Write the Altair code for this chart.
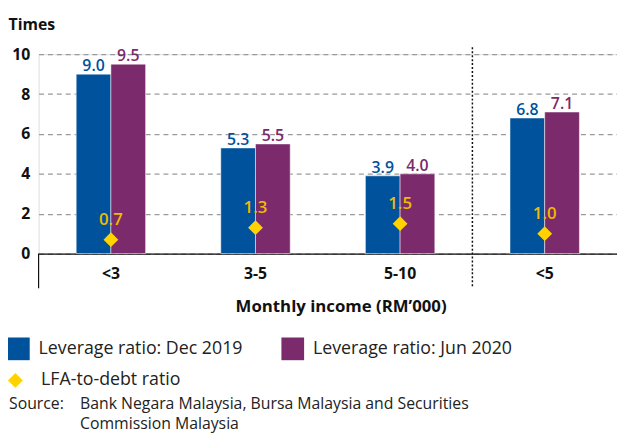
import altair as alt
import pandas as pd

categories = ["<3", "3-5", "5-10", "<5"]
dec2019 = [9.0, 5.3, 3.9, 6.8]
jun2020 = [9.5, 5.5, 4.0, 7.1]
lfa = [0.7, 1.3, 1.5, 1.0]
series_names = ["Leverage ratio: Dec 2019", "Leverage ratio: Jun 2020"]
lfa_name = "LFA-to-debt ratio"
y_ticks = [0, 2, 4, 6, 8, 10]
source_lead = "Source:"
source_line1 = "Bank Negara Malaysia, Bursa Malaysia and Securities"
source_line2 = "Commission Malaysia"

FONT = "Open Sans"
BLUE = "#00529C"
PURPLE = "#7B2A6B"
YELLOW = "#FFD200"
GOLD = "#EDBB00"

W, H = 586, 202

bars_df = pd.DataFrame({
    "category": categories * 2,
    "series": [series_names[0]] * 4 + [series_names[1]] * 4,
    "value": dec2019 + jun2020,
})
lfa_df = pd.DataFrame({"category": categories, "value": lfa, "lbl": [lfa_name] * 4})
one = pd.DataFrame({"a": [0]})

xenc = alt.X(
    "category:N", sort=categories,
    scale=alt.Scale(paddingInner=0.52, paddingOuter=0.26),
    axis=alt.Axis(
        title="Monthly income (RM\u2019000)", labelAngle=0, ticks=False,
        labelFont=FONT, labelFontSize=16, labelFontWeight="bold", labelColor="#111",
        labelPadding=12, domainColor="#111", domainWidth=1.2,
        titleFont=FONT, titleFontSize=17, titleFontWeight="bold", titleColor="#111",
        titlePadding=18, titleX=306, grid=False,
    ),
)
yenc = alt.Y(
    "value:Q", scale=alt.Scale(domain=[0, 10], nice=False),
    axis=alt.Axis(
        values=y_ticks, title="Times", titleAngle=0, titleAlign="left",
        titleBaseline="middle", titleX=-31, titleY=-30, titleFont=FONT,
        titleFontSize=16, titleFontWeight="bold", titleColor="#111",
        domain=False, ticks=False, labelPadding=9, labelFont=FONT,
        labelFontSize=16, labelFontWeight="bold", labelColor="#111",
        grid=True, gridDash=[5, 4], gridColor="#9a9a9a", gridWidth=1.2,
    ),
)
color = alt.Color(
    "series:N", title=None,
    scale=alt.Scale(domain=series_names, range=[BLUE, PURPLE]),
    legend=alt.Legend(
        orient="none", legendX=-32, legendY=287, direction="horizontal",
        symbolType="square", symbolSize=529, symbolStrokeWidth=0,
        symbolOpacity=1, labelFont=FONT, labelFontSize=18, labelColor="#222",
        labelOffset=9, columnPadding=39, padding=0, labelLimit=400,
    ),
)

bars = alt.Chart(bars_df).mark_bar(stroke="white", strokeWidth=0.5).encode(
    x=xenc, y=yenc, xOffset=alt.XOffset("series:N", sort=series_names), color=color
)
bar_labels = alt.Chart(bars_df).mark_text(
    baseline="alphabetic", dy=-3, font=FONT, fontSize=16, fontWeight=600
).encode(
    x=xenc, y=yenc, xOffset=alt.XOffset("series:N", sort=series_names),
    color=alt.Color("series:N", scale=alt.Scale(domain=series_names, range=[BLUE, PURPLE]), legend=None),
    text=alt.Text("value:Q", format=".1f"),
)
points = alt.Chart(lfa_df).mark_point(filled=True, opacity=1, size=225, color=YELLOW).encode(
    x=xenc, y=yenc,
    shape=alt.Shape(
        "lbl:N", title=None, scale=alt.Scale(range=["diamond"]),
        legend=alt.Legend(
            orient="none", legendX=-32.5, legendY=321.5, symbolSize=225,
            symbolFillColor=YELLOW, symbolStrokeWidth=0, symbolOpacity=1,
            labelFont=FONT, labelFontSize=18, labelColor="#222", labelOffset=17,
            padding=0,
        ),
    ),
)
point_labels = alt.Chart(lfa_df).mark_text(
    baseline="middle", dy=-20, font=FONT, fontSize=17, fontWeight=600, color=GOLD
).encode(x=xenc, y=yenc, text=alt.Text("value:Q", format=".1f"))

sep = alt.Chart(one).mark_rule(color="#111", strokeDash=[2, 2], strokeWidth=1.5).encode(
    x=alt.value(W * 3 / 4), y=alt.value(-7), y2=alt.value(235)
)
left_tick = alt.Chart(one).mark_rule(color="#111", strokeWidth=1.2).encode(
    x=alt.value(0), y=alt.value(H), y2=alt.value(237)
)
src_style = dict(align="left", baseline="middle", font=FONT, fontSize=16, color="#222")
src0 = alt.Chart(one).mark_text(**src_style).encode(
    x=alt.value(-30), y=alt.value(354), text=alt.value(source_lead))
src1 = alt.Chart(one).mark_text(**src_style).encode(
    x=alt.value(42), y=alt.value(354), text=alt.value(source_line1))
src2 = alt.Chart(one).mark_text(**src_style).encode(
    x=alt.value(42), y=alt.value(375), text=alt.value(source_line2))

chart = alt.layer(bars, bar_labels, points, point_labels, sep, left_tick, src0, src1, src2).properties(
    width=W, height=H,
    autosize=alt.AutoSizeParams(type="none"),
    padding={"left": 31, "top": 44, "right": 0, "bottom": 184},
).resolve_scale(color="independent").configure_view(stroke=None).configure(background="white")

chart.save("out.html", embed_options={"renderer": "svg", "actions": False})
